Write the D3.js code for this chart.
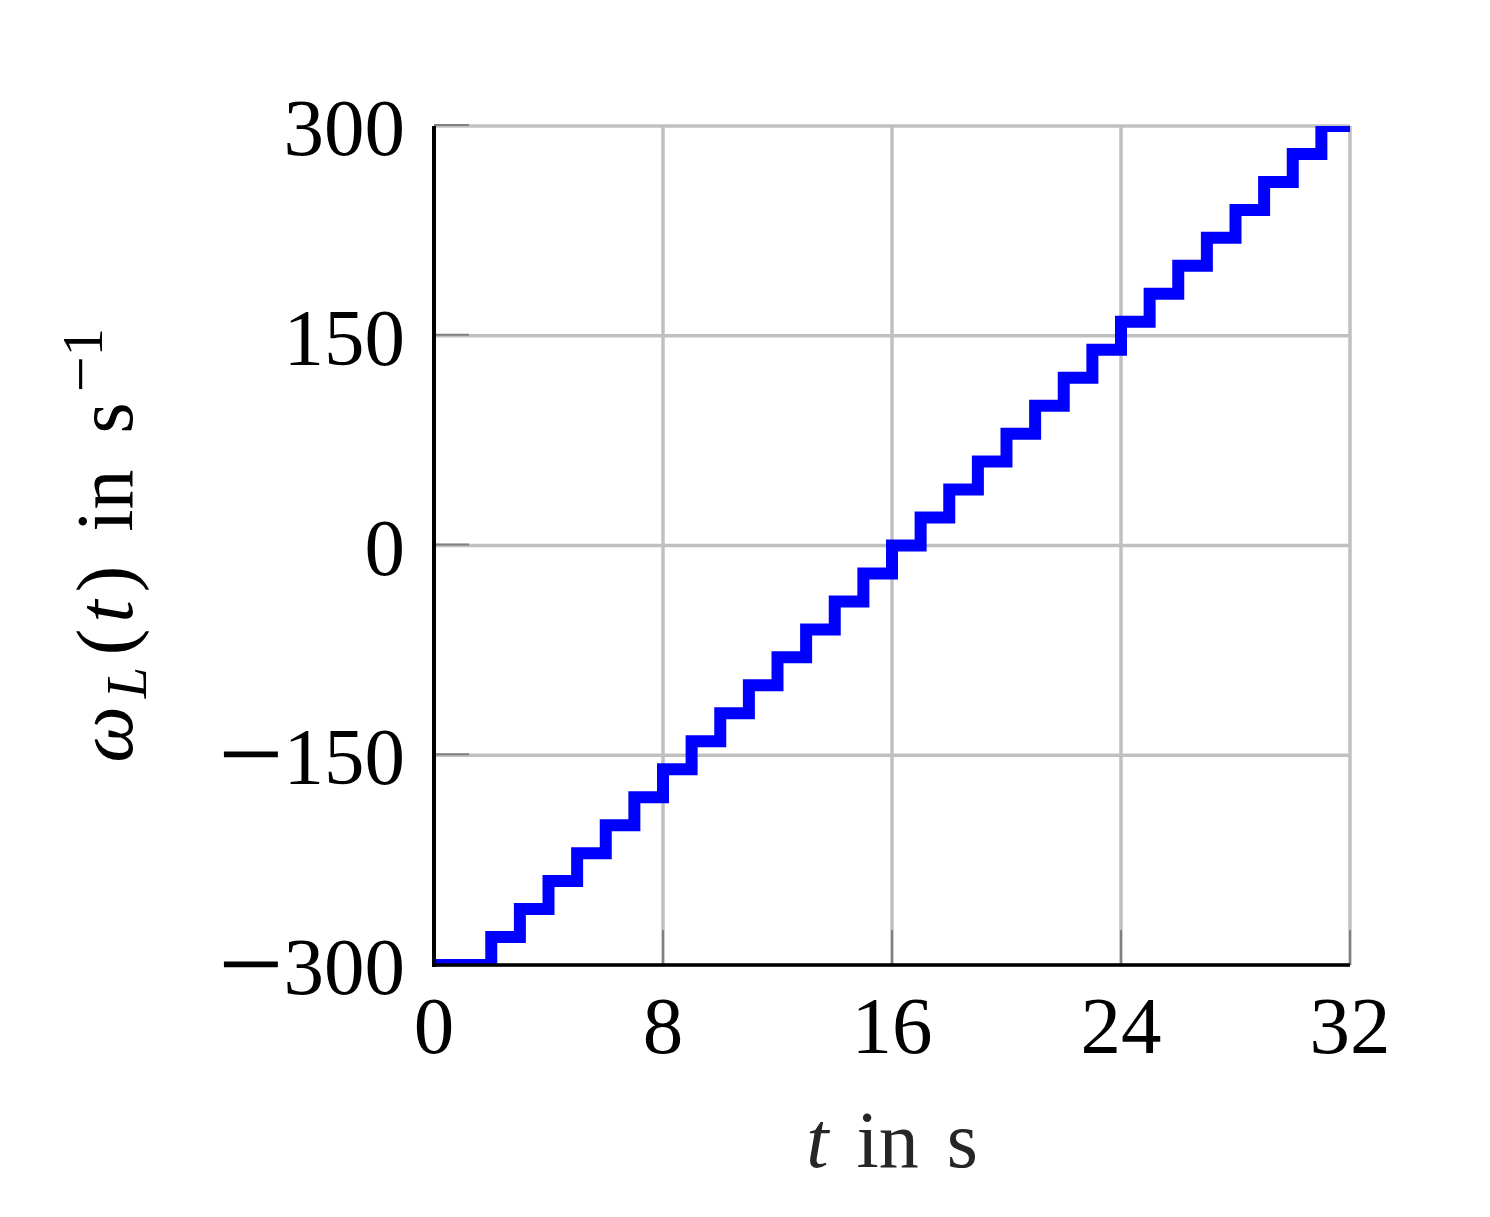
<!DOCTYPE html>
<html>
<head>
<meta charset="utf-8">
<script src="https://cdn.jsdelivr.net/npm/d3@7"></script>
<style>
  html, body { margin: 0; padding: 0; background: #fff; }
  svg { display: block; }
  text { font-family: "Liberation Serif", "DejaVu Serif", serif; }
</style>
</head>
<body>
<svg id="chart"></svg>
<script>
// time in s and load speed in 1/s
const tSec = [0, 1, 2, 3, 4, 5, 6, 7, 8, 9, 10, 11, 12, 13, 14, 15, 16,
  17, 18, 19, 20, 21, 22, 23, 24, 25, 26, 27, 28, 29, 30, 31, 32];
const omegaL = [-300, -300, -280, -260, -240, -220, -200, -180, -160, -140, -120,
  -100, -80, -60, -40, -20, 0, 20, 40, 60, 80, 100, 120, 140, 160, 180, 200,
  220, 240, 260, 280, 300, 300];
const xTicks = [0, 8, 16, 24, 32];
const yTicks = [-300, -150, 0, 150, 300];

const W = 1490, H = 1217;
const margin = { top: 126, right: 140, bottom: 252, left: 434 };
const width = W - margin.left - margin.right;
const height = H - margin.top - margin.bottom;

const svg = d3.select('#chart').attr('width', W).attr('height', H);
const g = svg.append('g').attr('transform', `translate(${margin.left},${margin.top})`);

const x = d3.scaleLinear().domain([0, 32]).range([0, width]);
const y = d3.scaleLinear().domain([-300, 300]).range([height, 0]);

const data = tSec.map((t, i) => ({ t, w: omegaL[i] }));

// grid
g.append('g').selectAll('line').data(xTicks).enter().append('line')
  .attr('x1', d => x(d)).attr('x2', d => x(d))
  .attr('y1', 0).attr('y2', height)
  .attr('stroke', '#c0c0c0').attr('stroke-width', 3.5);
g.append('g').selectAll('line').data(yTicks).enter().append('line')
  .attr('x1', 0).attr('x2', width)
  .attr('y1', d => y(d)).attr('y2', d => y(d))
  .attr('stroke', '#c0c0c0').attr('stroke-width', 3.5);

// inner ticks
g.append('g').selectAll('line').data(xTicks).enter().append('line')
  .attr('x1', d => x(d)).attr('x2', d => x(d))
  .attr('y1', height).attr('y2', height - 35)
  .attr('stroke', '#808080').attr('stroke-width', 2);
g.append('g').selectAll('line').data(yTicks).enter().append('line')
  .attr('x1', 0).attr('x2', 35)
  .attr('y1', d => y(d) - 1).attr('y2', d => y(d) - 1)
  .attr('stroke', '#808080').attr('stroke-width', 2);

// clip the step line to the plot area
svg.append('defs').append('clipPath').attr('id', 'plotclip')
  .append('rect').attr('x', 0).attr('y', 0).attr('width', width).attr('height', height);

const line = d3.line()
  .x(d => x(d.t))
  .y(d => y(d.w))
  .curve(d3.curveStepAfter);

g.append('path')
  .datum(data)
  .attr('clip-path', 'url(#plotclip)')
  .attr('fill', 'none')
  .attr('stroke', '#0000ff')
  .attr('stroke-width', 12)
  .attr('stroke-linejoin', 'miter')
  .attr('d', line);

// axis lines
g.append('line').attr('x1', 0).attr('x2', 0).attr('y1', 0).attr('y2', height + 2)
  .attr('stroke', '#000').attr('stroke-width', 4);
g.append('line').attr('x1', 0).attr('x2', width).attr('y1', height).attr('y2', height)
  .attr('stroke', '#000').attr('stroke-width', 3.5);

// tick labels; the minus gets a bigger tspan so it is as long as the TeX one
const tickLabel = (sel) => {
  sel.each(function (d) {
    const t = d3.select(this);
    if (d < 0) {
      t.append('tspan').style('font-size', '116px').attr('dy', 9).text('\u2212');
      t.append('tspan').attr('dy', -9).text(Math.abs(d));
    } else {
      t.text(d);
    }
  });
};
g.append('g').selectAll('text').data(xTicks).enter().append('text')
  .attr('x', d => x(d)).attr('y', height + 88)
  .attr('text-anchor', 'middle')
  .style('font-size', '81px').style('fill', '#000')
  .call(tickLabel);
g.append('g').selectAll('text').data(yTicks).enter().append('text')
  .attr('x', -29).attr('y', d => y(d) + 29)
  .attr('text-anchor', 'end')
  .style('font-size', '81px').style('fill', '#000')
  .call(tickLabel);

// x axis label
const xl = svg.append('text')
  .attr('x', margin.left + width / 2).attr('y', 1167)
  .attr('text-anchor', 'middle')
  .style('font-size', '80px').style('fill', '#262626');
xl.append('tspan').style('font-style', 'italic').text('t');
xl.append('tspan').attr('dx', 8).text(' in');
xl.append('tspan').attr('dx', 8).text(' s');

// y axis label
const yl = svg.append('text')
  .attr('transform', `translate(132,${margin.top + height / 2}) rotate(-90)`)
  .attr('text-anchor', 'middle')
  .style('font-size', '80px').style('fill', '#000');
yl.append('tspan').style('font-style', 'italic').text('\u03c9');
yl.append('tspan').style('font-style', 'italic').style('font-size', '56px')
  .attr('dx', 8).attr('dy', 14).text('L');
yl.append('tspan').attr('dx', 12).attr('dy', -14).text('(');
yl.append('tspan').attr('dx', 6).style('font-style', 'italic').text('t');
yl.append('tspan').attr('dx', 8).text(')');
yl.append('tspan').attr('dx', 14).text(' in');
yl.append('tspan').attr('dx', 16).text(' s');
yl.append('tspan').style('font-size', '64px').attr('dx', 10).attr('dy', -30).text('\u2212');
yl.append('tspan').style('font-size', '56px').text('1');
</script>
</body>
</html>
